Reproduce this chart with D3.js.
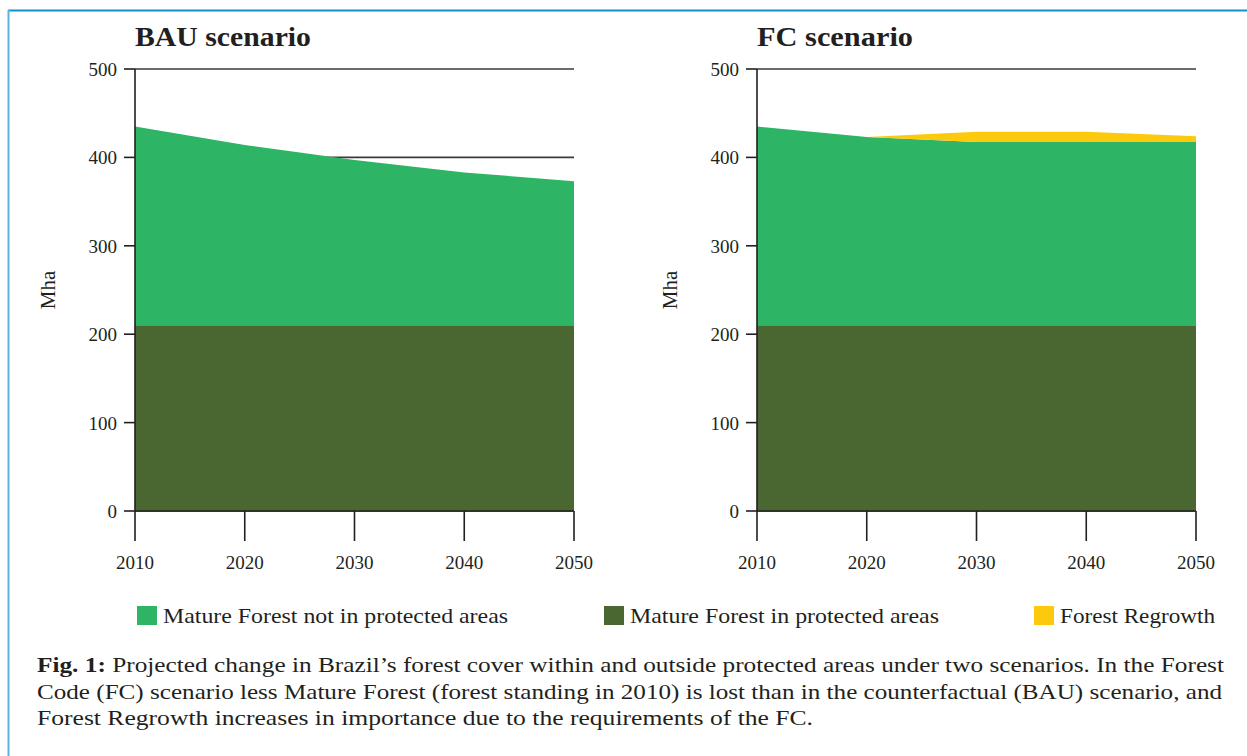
<!DOCTYPE html>
<html>

<head>
    <meta charset="UTF-8">
    <style>
        body { margin: 0; background: #fff; }
        text { font-family: "Liberation Serif", "DejaVu Serif", serif; fill: #231f20; }
    </style>
</head>

<body>
    <svg></svg>
    <script src="https://d3js.org/d3.v7.min.js"></script>

    <script>

        let width = 1247, height = 756;

        // data (Mha)
        let years = [2010, 2020, 2030, 2040, 2050];
        let seriesNames = ["Mature Forest in protected areas", "Mature Forest not in protected areas", "Forest Regrowth"];
        let bauProtected = [210, 210, 210, 210, 210];
        let bauNotProtected = [225, 204, 187, 173, 163];
        let bauRegrowth = [0, 0, 0, 0, 0];
        let fcProtected = [210, 210, 210, 210, 210];
        let fcNotProtected = [225, 213, 207.5, 207.5, 207.5];
        let fcRegrowth = [0, 0, 11.5, 11.5, 6.5];
        let yTicks = [0, 100, 200, 300, 400, 500];
        let legendItems = ["Mature Forest not in protected areas", "Mature Forest in protected areas", "Forest Regrowth"];

        let colors = {
            "Mature Forest in protected areas": "#4a6731",
            "Mature Forest not in protected areas": "#2db465",
            "Forest Regrowth": "#fdc90c"
        };

        let svg = d3.select("svg")
            .attr("width", width)
            .attr("height", height);

        // frame lines (top + left)
        svg.append("line").attr("x1", 8).attr("x2", width).attr("y1", 10.5).attr("y2", 10.5)
            .style("stroke", "#1490cc").style("stroke-width", 2);
        svg.append("line").attr("x1", 8.5).attr("x2", 8.5).attr("y1", 10).attr("y2", height)
            .style("stroke", "#5cb3de").style("stroke-width", 2);

        let y = d3.scaleLinear().domain([0, 500]).range([511, 69]);

        function drawPanel(x0, x1, title, titleLen, prot, notProt, regrowth) {
            let x = d3.scaleLinear().domain([2010, 2050]).range([x0, x1]);
            let g = svg.append("g");

            let rows = years.map((yr, i) => ({
                year: yr,
                "Mature Forest in protected areas": prot[i],
                "Mature Forest not in protected areas": notProt[i],
                "Forest Regrowth": regrowth[i]
            }));
            let stacked = d3.stack().keys(seriesNames)(rows);

            // grid lines
            g.selectAll(".grid")
                .data(yTicks)
                .enter()
                .append("line")
                .attr("x1", x0).attr("x2", x1)
                .attr("y1", d => y(d)).attr("y2", d => y(d))
                .style("stroke", "#3a3a3c")
                .style("stroke-width", 1.6);

            let area = d3.area()
                .x(d => x(d.data.year))
                .y0(d => y(d[0]))
                .y1(d => y(d[1]));

            g.selectAll(".area")
                .data(stacked)
                .enter()
                .append("path")
                .attr("d", area)
                .style("fill", d => colors[d.key]);

            // y axis
            g.append("line").attr("x1", x0).attr("x2", x0).attr("y1", y(500)).attr("y2", y(0))
                .style("stroke", "#231f20").style("stroke-width", 1.6);
            g.selectAll(".ytick")
                .data(yTicks)
                .enter()
                .append("line")
                .attr("x1", x0 - 11).attr("x2", x0)
                .attr("y1", d => y(d)).attr("y2", d => y(d))
                .style("stroke", "#231f20").style("stroke-width", 1.6);
            g.selectAll(".ylab")
                .data(yTicks)
                .enter()
                .append("text")
                .attr("x", x0 - 18)
                .attr("y", d => y(d) + 7)
                .attr("text-anchor", "end")
                .style("font-size", "19px")
                .text(d => d);

            // x axis
            g.append("line").attr("x1", x0).attr("x2", x1).attr("y1", y(0)).attr("y2", y(0))
                .style("stroke", "#231f20").style("stroke-width", 1.6);
            g.selectAll(".xtick")
                .data(years)
                .enter()
                .append("line")
                .attr("x1", d => x(d)).attr("x2", d => x(d))
                .attr("y1", y(0)).attr("y2", y(0) + 30)
                .style("stroke", "#231f20").style("stroke-width", 1.6);
            g.selectAll(".xlab")
                .data(years)
                .enter()
                .append("text")
                .attr("x", d => x(d))
                .attr("y", 569)
                .attr("text-anchor", "middle")
                .style("font-size", "19px")
                .text(d => d);

            g.append("text")
                .attr("transform", "translate(" + (x0 - 80) + "," + 290 + ") rotate(-90)")
                .attr("text-anchor", "middle")
                .style("font-size", "21px")
                .text("Mha");

            g.append("text")
                .attr("x", x0)
                .attr("y", 46)
                .attr("textLength", titleLen)
                .attr("lengthAdjust", "spacingAndGlyphs")
                .style("font-size", "28px")
                .style("font-weight", "bold")
                .text(title);
        }

        drawPanel(135, 574, "BAU scenario", 176, bauProtected, bauNotProtected, bauRegrowth);
        drawPanel(757, 1196, "FC scenario", 156, fcProtected, fcNotProtected, fcRegrowth);

        // legend
        let legendX = [137, 604, 1034];
        let legendLen = [345, 309, 155];
        legendItems.forEach((name, i) => {
            svg.append("rect").attr("x", legendX[i]).attr("y", 606).attr("width", 20).attr("height", 19)
                .style("fill", colors[name]);
            svg.append("text").attr("x", legendX[i] + 26).attr("y", 623)
                .attr("textLength", legendLen[i])
                .attr("lengthAdjust", "spacingAndGlyphs")
                .style("font-size", "22px")
                .text(name);
        });

        // caption
        let caption = [
            ["Fig. 1:", " Projected change in Brazil\u2019s forest cover within and outside protected areas under two scenarios. In the Forest", 1187],
            ["", "Code (FC) scenario less Mature Forest (forest standing in 2010) is lost than in the counterfactual (BAU) scenario, and", 1185],
            ["", "Forest Regrowth increases in importance due to the requirements of the FC.", 776]
        ];
        caption.forEach((c, i) => {
            let t = svg.append("text")
                .attr("x", 37)
                .attr("y", 672 + i * 26.5)
                .attr("textLength", c[2])
                .attr("lengthAdjust", "spacingAndGlyphs")
                .style("font-size", "22px");
            if (c[0]) t.append("tspan").style("font-weight", "bold").text(c[0]);
            t.append("tspan").text(c[1]);
        });

    </script>

</body>

</html>
